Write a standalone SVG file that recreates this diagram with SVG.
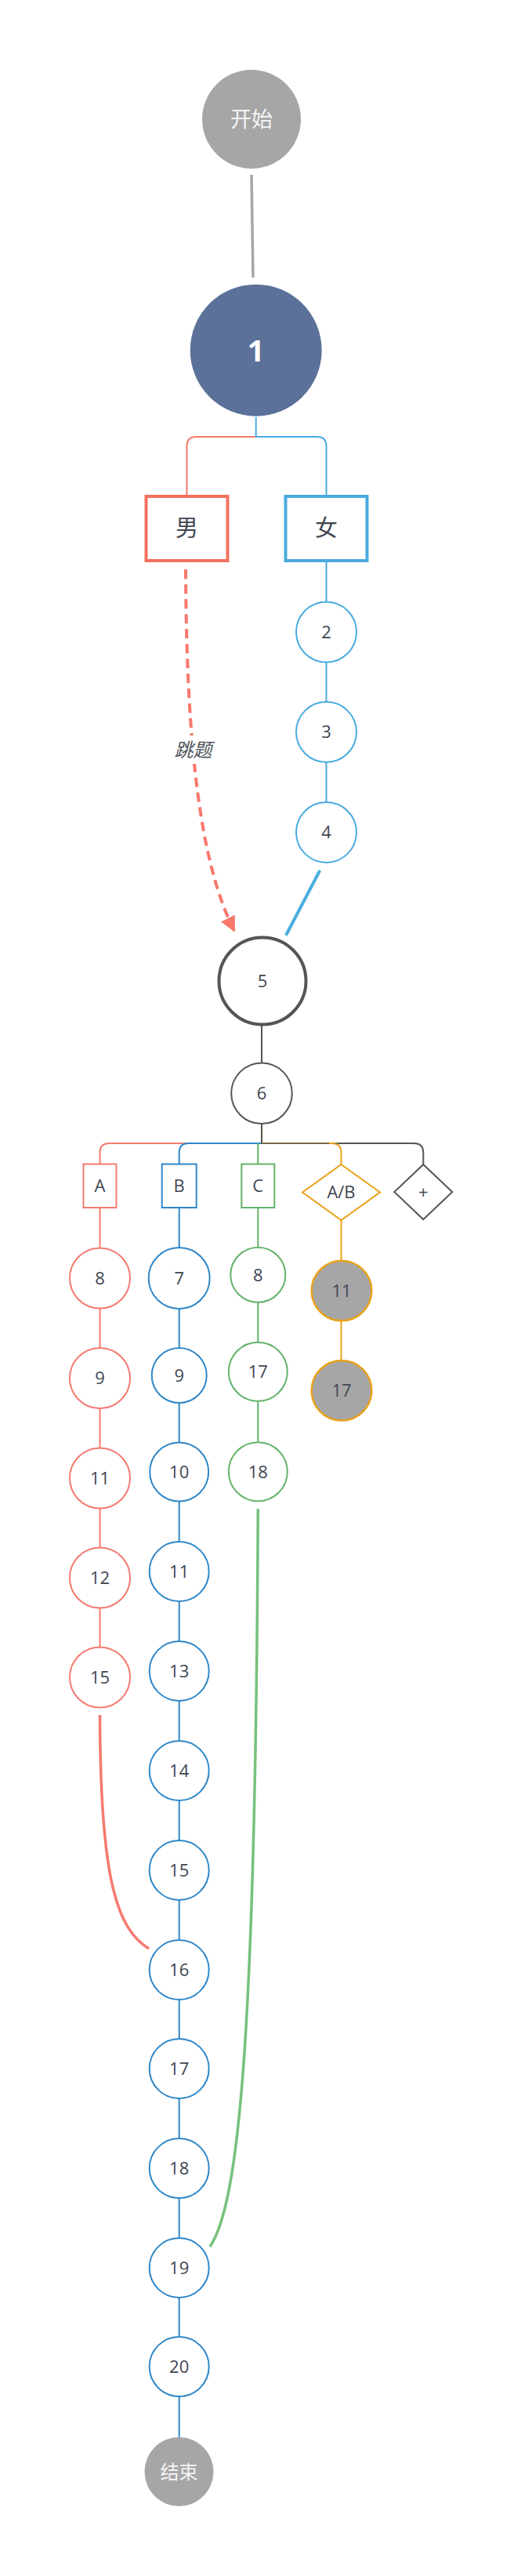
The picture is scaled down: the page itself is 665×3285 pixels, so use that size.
<svg xmlns="http://www.w3.org/2000/svg" width="665" height="3285" viewBox="0 0 665 3285">
<style>
.t{font-family:"Open Sans","Liberation Sans",sans-serif;font-size:22px;fill:#3f4652;text-anchor:middle}
.cjk{font-family:"Noto Sans CJK SC","Noto Sans",sans-serif;text-anchor:middle}
.ca{fill:#fff;stroke:#f47a70;stroke-width:2}
.cb{fill:#fff;stroke:#2f87c8;stroke-width:2}
.cc{fill:#fff;stroke:#64b36a;stroke-width:2}
.co{fill:#a6a6a6;stroke:#e8a219;stroke-width:2.5}
.la{stroke:#f47a70;stroke-width:2;fill:none}
.lb{stroke:#2f87c8;stroke-width:2;fill:none}
.lc{stroke:#64b36a;stroke-width:2;fill:none}
.lo{stroke:#e8a219;stroke-width:2;fill:none}
.ld{stroke:#555;stroke-width:2;fill:none}
</style>
<defs>
<marker id="arr" viewBox="0 0 10 10" refX="9" refY="5" markerWidth="5" markerHeight="5" orient="auto" markerUnits="strokeWidth">
<path d="M0,0 L10,5 L0,10 z" fill="#f7786d"/>
</marker>
</defs>
<rect width="665" height="3285" fill="#fff"/>
<g id="connectors">
<line x1="321" y1="223" x2="323" y2="354" stroke="#a6a6a6" stroke-width="3.5"/>
<path d="M326.7,557 H250.5 Q238.5,557 238.5,569 V633" stroke="#f77a6a" stroke-width="2" fill="none"/>
<path d="M326.7,532 V557 H404.5 Q416.5,557 416.5,569 V633" stroke="#4aabdf" stroke-width="2" fill="none"/>
<line x1="416.5" y1="715" x2="416.5" y2="1062" stroke="#4aabdf" stroke-width="2"/>
<path d="M237,726 C238,950 255,1100 299,1187" stroke="#f7786d" stroke-width="4" stroke-dasharray="12 7" fill="none" marker-end="url(#arr)"/>
<line x1="408.3" y1="1110" x2="365" y2="1192.7" stroke="#4aaee0" stroke-width="4"/>
<line x1="334" y1="1306" x2="334" y2="1356" class="ld"/>
<path d="M334,1458 H139.5 Q127.5,1458 127.5,1470 V1484.5" class="la"/>
<path d="M334,1458 H240.7 Q228.7,1458 228.7,1470 V1484.5" class="lb"/>
<path d="M329.3,1458 V1484.5" class="lc"/>
<path d="M334,1458 H528.3 Q540.3,1458 540.3,1470 V1485" class="ld"/>
<path d="M334,1458 H423.5 Q435.5,1458 435.5,1470 V1485" class="lo"/>
<path d="M334,1458 H420" stroke="#555" stroke-width="2" stroke-opacity="0.75"/>
<line x1="334" y1="1433" x2="334" y2="1458" stroke="#5a5444" stroke-width="2"/>
<line x1="127.5" y1="1540" x2="127.5" y2="2139" class="la"/>
<line x1="228.7" y1="1540" x2="228.7" y2="3152" class="lb"/>
<line x1="329.3" y1="1540" x2="329.3" y2="1877" class="lc"/>
<line x1="435.5" y1="1556" x2="435.5" y2="1773" class="lo"/>
<path d="M127.5,2187 C128,2400 150,2460 190,2485" stroke="#f57a70" stroke-width="3.5" fill="none"/>
<path d="M329.3,1924 C326,2600 305,2810 268,2865" stroke="#76c17a" stroke-width="3.5" fill="none"/>
</g>
<g id="n-start"><circle cx="321" cy="152" r="63" fill="#a6a6a6"/><text x="321" y="161.5" class="cjk" font-size="27" fill="#f5f5f5">开始</text></g>
<g id="n1"><circle cx="326.7" cy="446.7" r="84" fill="#5b7199"/><text x="326.7" y="460.5" class="t" font-weight="bold" style="fill:#fff;font-size:38px">1</text></g>
<g id="n-male"><rect x="186.5" y="633" width="104" height="82" fill="#fff" stroke="#f4705e" stroke-width="4"/><text x="238.5" y="684" class="cjk" font-size="29" fill="#3f4652">男</text></g>
<g id="n-female"><rect x="364.5" y="633" width="104" height="82" fill="#fff" stroke="#4aabdf" stroke-width="4"/><text x="416.5" y="684" class="cjk" font-size="29" fill="#3f4652">女</text></g>
<g id="n2"><circle cx="416.5" cy="806" r="38.5" fill="#fff" stroke="#4aabdf" stroke-width="2"/><text x="416.5" y="813.8" class="t">2</text></g>
<g id="n3"><circle cx="416.5" cy="933.6" r="38.5" fill="#fff" stroke="#4aabdf" stroke-width="2"/><text x="416.5" y="941.4" class="t">3</text></g>
<g id="n4"><circle cx="416.5" cy="1061.4" r="38.5" fill="#fff" stroke="#4aabdf" stroke-width="2"/><text x="416.5" y="1069.2" class="t">4</text></g>
<g id="lbl-skip"><rect x="219" y="938" width="56" height="36" fill="#fff"/><text x="246.5" y="964.5" class="cjk" font-size="24" font-style="italic" fill="#4d525a">跳题</text></g>
<g id="n5"><circle cx="335" cy="1251" r="55.5" fill="#fff" stroke="#555" stroke-width="4"/><text x="335" y="1258.8" class="t">5</text></g>
<g id="n6"><circle cx="334" cy="1394.3" r="38.8" fill="#fff" stroke="#555" stroke-width="2"/><text x="334" y="1402.1" class="t">6</text></g>
<g id="n-A"><rect x="106.5" y="1484.5" width="42" height="55.5" fill="#fff" stroke="#f47a70" stroke-width="2"/><text x="127.5" y="1520" class="t">A</text></g>
<g id="n-B"><rect x="206.7" y="1484.5" width="44" height="55.5" fill="#fff" stroke="#2f87c8" stroke-width="2"/><text x="228.7" y="1520" class="t">B</text></g>
<g id="n-C"><rect x="308.3" y="1484.5" width="42" height="55.5" fill="#fff" stroke="#64b36a" stroke-width="2"/><text x="329.3" y="1520" class="t">C</text></g>
<g id="n-AB"><polygon points="435.5,1485 485,1520.5 435.5,1556 386,1520.5" fill="#fff" stroke="#e8a219" stroke-width="2"/><text x="435.5" y="1528.3" class="t">A/B</text></g>
<g id="n-plus"><polygon points="540.3,1485 577.3,1520 540.3,1555 503.3,1520" fill="#fff" stroke="#555" stroke-width="2"/><text x="540.3" y="1527.8" class="t">+</text></g>
<g id="a8"><circle cx="127.5" cy="1630" r="38.5" class="ca"/><text x="127.5" y="1637.8" class="t">8</text></g>
<g id="a9"><circle cx="127.5" cy="1757.5" r="38.5" class="ca"/><text x="127.5" y="1765.3" class="t">9</text></g>
<g id="a11"><circle cx="127.5" cy="1885" r="38.5" class="ca"/><text x="127.5" y="1892.8" class="t">11</text></g>
<g id="a12"><circle cx="127.5" cy="2012" r="38.5" class="ca"/><text x="127.5" y="2019.8" class="t">12</text></g>
<g id="a15"><circle cx="127.5" cy="2139" r="38.5" class="ca"/><text x="127.5" y="2146.8" class="t">15</text></g>
<g id="b7"><circle cx="228.7" cy="1630" r="39" class="cb"/><text x="228.7" y="1637.8" class="t">7</text></g>
<g id="b9"><circle cx="228.7" cy="1754" r="35" class="cb"/><text x="228.7" y="1761.8" class="t">9</text></g>
<g id="b10"><circle cx="228.7" cy="1877" r="37.5" class="cb"/><text x="228.7" y="1884.8" class="t">10</text></g>
<g id="b11"><circle cx="228.7" cy="2004" r="38" class="cb"/><text x="228.7" y="2011.8" class="t">11</text></g>
<g id="b13"><circle cx="228.7" cy="2131" r="38" class="cb"/><text x="228.7" y="2138.8" class="t">13</text></g>
<g id="b14"><circle cx="228.7" cy="2258" r="38" class="cb"/><text x="228.7" y="2265.8" class="t">14</text></g>
<g id="b15"><circle cx="228.7" cy="2385" r="38" class="cb"/><text x="228.7" y="2392.8" class="t">15</text></g>
<g id="b16"><circle cx="228.7" cy="2512" r="38" class="cb"/><text x="228.7" y="2519.8" class="t">16</text></g>
<g id="b17"><circle cx="228.7" cy="2638" r="38" class="cb"/><text x="228.7" y="2645.8" class="t">17</text></g>
<g id="b18"><circle cx="228.7" cy="2765" r="38" class="cb"/><text x="228.7" y="2772.8" class="t">18</text></g>
<g id="b19"><circle cx="228.7" cy="2892" r="38" class="cb"/><text x="228.7" y="2899.8" class="t">19</text></g>
<g id="b20"><circle cx="228.7" cy="3018" r="38" class="cb"/><text x="228.7" y="3025.8" class="t">20</text></g>
<g id="n-end"><circle cx="228.5" cy="3152" r="44" fill="#a6a6a6"/><text x="228.5" y="3160.5" class="cjk" font-size="24" fill="#f5f5f5">结束</text></g>
<g id="c8"><circle cx="329.3" cy="1625.7" r="35" class="cc"/><text x="329.3" y="1633.5" class="t">8</text></g>
<g id="c17"><circle cx="329.3" cy="1749.3" r="37.5" class="cc"/><text x="329.3" y="1757.1" class="t">17</text></g>
<g id="c18"><circle cx="329.3" cy="1876.8" r="37.5" class="cc"/><text x="329.3" y="1884.6" class="t">18</text></g>
<g id="o11"><circle cx="436" cy="1646" r="38.3" class="co"/><text x="436" y="1653.8" class="t">11</text></g>
<g id="o17"><circle cx="436" cy="1773.3" r="38.3" class="co"/><text x="436" y="1781.1" class="t">17</text></g>
</svg>
